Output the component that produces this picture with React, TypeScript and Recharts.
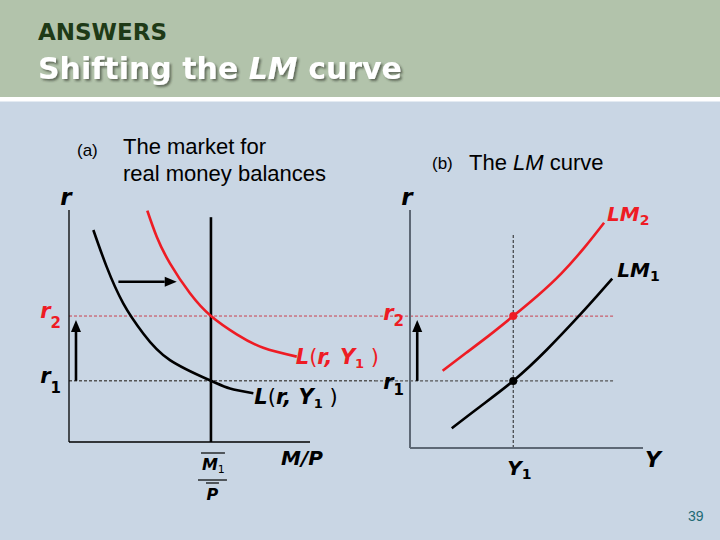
import React from 'react';
import {
  ComposedChart, Line, XAxis, YAxis, ReferenceLine, ReferenceDot,
} from 'recharts';

// ---- data ----
// panel (a): real money balances (x 0..100) vs interest rate r (0..100)
const demandY1 = [
  { x: 10.1, y: 91.4 }, { x: 15.6, y: 75.6 }, { x: 22.5, y: 59.8 }, { x: 30.8, y: 46.8 },
  { x: 41.9, y: 35.3 }, { x: 58.9, y: 26.4 }, { x: 66.8, y: 23.1 }, { x: 76.5, y: 21.0 },
];
const demandShifted = [
  { x: 32.5, y: 99.7 }, { x: 36.4, y: 88.5 }, { x: 41.9, y: 77.0 }, { x: 50.2, y: 64.1 },
  { x: 58.9, y: 54.3 }, { x: 69.6, y: 46.4 }, { x: 80.6, y: 40.6 }, { x: 94.5, y: 36.8 },
];
const realBalance = 58.9; // M1/P
const supplyTop = 96.9;
const rateTicks = [26.4, 54.3]; // r1, r2
const rateSubs = ['1', '2'];
const shiftArrowX = [20.5, 44.7];
const shiftArrowY = 69.1;
const rateArrowTop = 52.6;
const leftArrowX = 2.9;
const leftDashEnd = 127;

// panel (b): income Y (0..100) vs r
const lm1 = [
  { x: 17.9, y: 6.0 }, { x: 30.0, y: 15.3 }, { x: 44.3, y: 26.4 }, { x: 58.7, y: 39.8 },
  { x: 73.0, y: 54.9 }, { x: 80.1, y: 62.8 }, { x: 86.8, y: 70.4 },
];
const lm2 = [
  { x: 14.0, y: 30.8 }, { x: 24.0, y: 38.4 }, { x: 34.0, y: 46.0 }, { x: 44.3, y: 54.3 },
  { x: 55.0, y: 63.3 }, { x: 65.0, y: 72.7 }, { x: 75.0, y: 84.0 }, { x: 83.3, y: 94.5 },
];
const income1 = 44.3; // Y1
const incomeLineTop = 90.1;
const rightArrowX = 3.1;
const rightDash = [-15, 88];

const FONT = "'DejaVu Sans', Verdana, sans-serif";
const RED = '#ee1c24';

const arrowShape = (p: any) => {
  const { x1, y1, x2, y2 } = p;
  const ang = Math.atan2(y2 - y1, x2 - x1);
  const L = 12, W = 5;
  const bx = x2 - L * Math.cos(ang), by = y2 - L * Math.sin(ang);
  const px = -Math.sin(ang) * W, py = Math.cos(ang) * W;
  return (
    <g>
      <line x1={x1} y1={y1} x2={bx} y2={by} stroke="#000" strokeWidth={2.6} />
      <polygon points={`${x2},${y2} ${bx + px},${by + py} ${bx - px},${by - py}`} fill="#000" />
    </g>
  );
};

const makeRateTick = (side: 'left' | 'right') => (props: any) => {
  const { x, y, payload } = props;
  const i = rateTicks.indexOf(payload.value);
  const sub = rateSubs[i] ?? '';
  const color = sub === '2' ? RED : '#000';
  let dy = 2, sdy = 10;
  if (side === 'right') { dy = sub === '2' ? 4 : 8; sdy = 6; }
  return (
    <text x={x} y={y + dy} textAnchor="end" fill={color} fontFamily={FONT} fontWeight="bold"
      fontStyle="italic" fontSize={21}>
      r<tspan fontSize={15} fontStyle="normal" dy={sdy}>{sub}</tspan>
    </text>
  );
};

const MoneyTick = (props: any) => {
  const { x, y } = props;
  return (
    <g>
      <line x1={x - 10} x2={x + 14} y1={y + 11} y2={y + 11} stroke="#000" strokeWidth={1.2} />
      <text x={x - 9} y={y + 28} fontFamily={FONT} fontWeight="bold" fontStyle="italic" fontSize={16} fill="#000">
        M<tspan fontSize={11} fontWeight="normal" fontStyle="normal" dy={3}>1</tspan>
      </text>
      <line x1={x - 13} x2={x + 16} y1={y + 38} y2={y + 38} stroke="#000" strokeWidth={1.2} />
      <line x1={x - 5} x2={x + 8} y1={y + 41} y2={y + 41} stroke="#000" strokeWidth={1.2} />
      <text x={x + 1.5} y={y + 58} textAnchor="middle" fontFamily={FONT} fontWeight="bold"
        fontStyle="italic" fontSize={16} fill="#000">P</text>
    </g>
  );
};

const IncomeTick = (props: any) => {
  const { x, y } = props;
  return (
    <text x={x - 6} y={y + 27} fontFamily={FONT} fontWeight="bold" fontStyle="italic" fontSize={20} fill="#000">
      Y<tspan fontSize={14} fontStyle="normal" dy={4}>1</tspan>
    </text>
  );
};

const lLabel = (color: string, dx: number, dy: number) => (props: any) => {
  const vb = props.viewBox || {};
  const x = (vb.x ?? 0) + (vb.width ?? 0) / 2 + dx;
  const y = (vb.y ?? 0) + (vb.height ?? 0) / 2 + dy;
  return (
    <text x={x} y={y} fill={color} fontFamily={FONT} fontSize={21}>
      <tspan fontWeight="bold" fontStyle="italic">L</tspan>
      <tspan>(</tspan>
      <tspan fontWeight="bold" fontStyle="italic">r, Y</tspan>
      <tspan fontWeight="bold" fontSize={13} dy={4}>1</tspan>
      <tspan dy={-4}> )</tspan>
    </text>
  );
};

const lmLabel = (color: string, sub: string, dx: number, dy: number) => (props: any) => {
  const vb = props.viewBox || {};
  const x = (vb.x ?? 0) + (vb.width ?? 0) / 2 + dx;
  const y = (vb.y ?? 0) + (vb.height ?? 0) / 2 + dy;
  return (
    <text x={x} y={y} fill={color} fontFamily={FONT} fontSize={20} fontWeight="bold" fontStyle="italic">
      LM<tspan fontSize={14} fontStyle="normal" dy={4}>{sub}</tspan>
    </text>
  );
};

const last = (a: { x: number; y: number }[]) => a[a.length - 1];

function LeftChart() {
  return (
    <ComposedChart width={400} height={330} margin={{ top: 30, right: 90, bottom: 8, left: 0 }}
      style={{ overflow: 'visible' }}>
      <XAxis type="number" dataKey="x" domain={[0, 100]} ticks={[realBalance]} interval={0}
        tick={MoneyTick} tickLine={false} tickSize={0} tickMargin={0} height={60}
        axisLine={{ stroke: '#000', strokeWidth: 1.3 }}
        label={{
          content: (p: any) => {
            const vb = p.viewBox;
            return (
              <text x={vb.x + vb.width - 8} y={vb.y + 23} textAnchor="middle" fontFamily={FONT}
                fontWeight="bold" fontStyle="italic" fontSize={20} fill="#000">M/P</text>
            );
          },
        }} />
      <YAxis type="number" domain={[0, 100]} ticks={rateTicks} interval={0} width={69}
        tick={makeRateTick('left')} tickLine={false} tickSize={0} tickMargin={8}
        axisLine={{ stroke: '#000', strokeWidth: 1.3 }}
        label={{
          content: (p: any) => {
            const vb = p.viewBox;
            return (
              <text x={vb.x + vb.width - 3} y={vb.y - 5} textAnchor="middle" fontFamily={FONT}
                fontWeight="bold" fontStyle="italic" fontSize={23} fill="#000">r</text>
            );
          },
        }} />
      <ReferenceLine segment={[{ x: 0, y: rateTicks[1] }, { x: leftDashEnd, y: rateTicks[1] }]}
        stroke="#c94250" strokeWidth={1} strokeDasharray="3 2" ifOverflow="visible" />
      <ReferenceLine segment={[{ x: 0, y: rateTicks[0] }, { x: leftDashEnd, y: rateTicks[0] }]}
        stroke="#555" strokeWidth={1.4} strokeDasharray="3 2" ifOverflow="visible" />
      <ReferenceLine segment={[{ x: realBalance, y: 0 }, { x: realBalance, y: supplyTop }]}
        stroke="#000" strokeWidth={2.6} ifOverflow="visible" />
      <Line data={demandY1} dataKey="y" type="natural" stroke="#000" strokeWidth={2.6} dot={false}
        isAnimationActive={false} />
      <Line data={demandShifted} dataKey="y" type="natural" stroke={RED} strokeWidth={2.6} dot={false}
        isAnimationActive={false} />
      <ReferenceLine segment={[{ x: shiftArrowX[0], y: shiftArrowY }, { x: shiftArrowX[1], y: shiftArrowY }]}
        shape={arrowShape} ifOverflow="visible" />
      <ReferenceLine segment={[{ x: leftArrowX, y: rateTicks[0] }, { x: leftArrowX, y: rateArrowTop }]}
        shape={arrowShape} ifOverflow="visible" />
      <ReferenceDot x={last(demandShifted).x} y={last(demandShifted).y} r={0} fill="none" stroke="none"
        ifOverflow="visible" label={lLabel(RED, -1, 7)} />
      <ReferenceDot x={last(demandY1).x} y={last(demandY1).y} r={0} fill="none" stroke="none"
        ifOverflow="visible" label={lLabel('#000', 1, 11)} />
    </ComposedChart>
  );
}

function RightChart() {
  return (
    <ComposedChart width={360} height={330} margin={{ top: 30, right: 77, bottom: 8, left: 0 }}
      style={{ overflow: 'visible' }}>
      <XAxis type="number" dataKey="x" domain={[0, 100]} ticks={[income1]} interval={0}
        tick={IncomeTick} tickLine={false} tickSize={0} tickMargin={0} height={54}
        axisLine={{ stroke: '#5d6875', strokeWidth: 2 }}
        label={{
          content: (p: any) => {
            const vb = p.viewBox;
            return (
              <text x={vb.x + vb.width + 2} y={vb.y + 19} fontFamily={FONT}
                fontWeight="bold" fontStyle="italic" fontSize={22} fill="#000">Y</text>
            );
          },
        }} />
      <YAxis type="number" domain={[-2.5, 100]} ticks={rateTicks} interval={0} width={50}
        tick={makeRateTick('right')} tickLine={false} tickSize={0} tickMargin={6}
        axisLine={{ stroke: '#5d6875', strokeWidth: 2 }}
        label={{
          content: (p: any) => {
            const vb = p.viewBox;
            return (
              <text x={vb.x + vb.width - 3} y={vb.y - 5} textAnchor="middle" fontFamily={FONT}
                fontWeight="bold" fontStyle="italic" fontSize={23} fill="#000">r</text>
            );
          },
        }} />
      <ReferenceLine segment={[{ x: rightDash[0], y: rateTicks[1] }, { x: rightDash[1], y: rateTicks[1] }]}
        stroke="#c94250" strokeWidth={1} strokeDasharray="3 2" ifOverflow="visible" />
      <ReferenceLine segment={[{ x: rightDash[0], y: rateTicks[0] }, { x: rightDash[1], y: rateTicks[0] }]}
        stroke="#555" strokeWidth={1.4} strokeDasharray="3 2" ifOverflow="visible" />
      <ReferenceLine segment={[{ x: income1, y: -2.5 }, { x: income1, y: incomeLineTop }]}
        stroke="#222" strokeWidth={1} strokeDasharray="3 2" ifOverflow="visible" />
      <Line data={lm1} dataKey="y" type="natural" stroke="#000" strokeWidth={2.6} dot={false}
        isAnimationActive={false} />
      <Line data={lm2} dataKey="y" type="natural" stroke={RED} strokeWidth={2.6} dot={false}
        isAnimationActive={false} />
      <ReferenceLine segment={[{ x: rightArrowX, y: rateTicks[0] }, { x: rightArrowX, y: rateArrowTop }]}
        shape={arrowShape} ifOverflow="visible" />
      <ReferenceDot x={income1} y={rateTicks[1]} r={4} fill={RED} stroke="none" />
      <ReferenceDot x={income1} y={rateTicks[0]} r={4} fill="#000" stroke="none" />
      <ReferenceDot x={last(lm2).x} y={last(lm2).y} r={0} fill="none" stroke="none"
        ifOverflow="visible" label={lmLabel(RED, '2', 3, -2)} />
      <ReferenceDot x={last(lm1).x} y={last(lm1).y} r={0} fill="none" stroke="none"
        ifOverflow="visible" label={lmLabel('#000', '1', 5, -2)} />
    </ComposedChart>
  );
}

export default function App() {
  const SANS = "'Liberation Sans', Arial, sans-serif";
  return (
    <div style={{ position: 'absolute', left: 0, top: 0, width: 720, height: 540, overflow: 'hidden',
      background: '#c9d6e4' }}>
      <svg width={720} height={540} style={{ position: 'absolute', left: 0, top: 0 }}>
        <defs>
          <filter id="titleShadow" x="-5%" y="-20%" width="115%" height="160%">
            <feDropShadow dx={2} dy={2} stdDeviation={1} floodColor="#2a3328" floodOpacity={0.6} />
          </filter>
        </defs>
        <rect x={0} y={0} width={720} height={97} fill="#b2c3ab" />
        <rect x={0} y={97} width={720} height={4.5} fill="#ffffff" />
        <text x={38} y={40} fontFamily={FONT} fontWeight="bold" fontSize={23} fill="#1e3a17">ANSWERS</text>
        <text x={38} y={79} fontFamily={FONT} fontWeight="bold" fontSize={30} fill="#ffffff"
          filter="url(#titleShadow)">
          Shifting the <tspan fontStyle="italic">LM</tspan> curve
        </text>
        <text x={77} y={156} fontFamily={SANS} fontSize={17} fill="#000">(a)</text>
        <text x={123} y={154} fontFamily={SANS} fontSize={22} fill="#000">The market for</text>
        <text x={123} y={181} fontFamily={SANS} fontSize={22} fill="#000">real money balances</text>
        <text x={432} y={169} fontFamily={SANS} fontSize={17} fill="#000">(b)</text>
        <text x={469} y={170} fontFamily={SANS} fontSize={22} fill="#000">
          The <tspan fontStyle="italic">LM</tspan> curve
        </text>
        <text x={688} y={521} fontFamily={SANS} fontSize={14} fill="#1d6a74">39</text>
      </svg>
      <div style={{ position: 'absolute', left: 0, top: 180 }}>
        <LeftChart />
      </div>
      <div style={{ position: 'absolute', left: 360, top: 180 }}>
        <RightChart />
      </div>
    </div>
  );
}
